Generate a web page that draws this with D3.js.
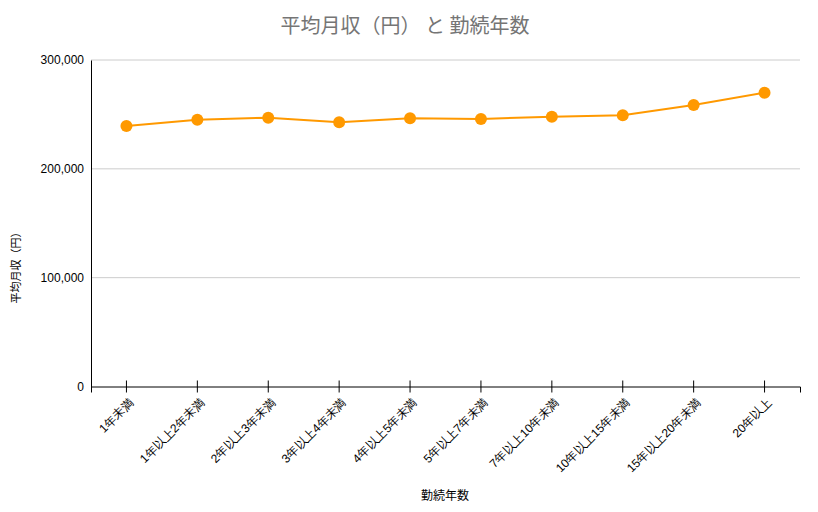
<!DOCTYPE html>
<html><head><meta charset="utf-8">
<script src="https://cdn.jsdelivr.net/npm/d3@7"></script>
<style>body{margin:0;background:#fff;} svg{font-family:"Noto Sans CJK JP","Liberation Sans",Arial,sans-serif;}</style>
</head><body>
<svg id="c" width="818" height="512"></svg>
<script>
const categories = ["1年未満","1年以上2年未満","2年以上3年未満","3年以上4年未満","4年以上5年未満","5年以上7年未満","7年以上10年未満","10年以上15年未満","15年以上20年未満","20年以上"];
const values = [239400, 245200, 247000, 242800, 246400, 245800, 247900, 249200, 258700, 270000];
const yTicks = [0, 100000, 200000, 300000];
const title = "平均月収（円） と 勤続年数";
const xTitle = "勤続年数";
const yTitle = "平均月収（円）";

const svg = d3.select("#c");
const m = {l:91, r:800, t:60, b:386.5};
const x = d3.scaleBand().domain(categories).range([m.l, m.r]).padding(0);
const y = d3.scaleLinear().domain([0, 300000]).range([m.b, m.t]);

svg.append("rect").attr("width",818).attr("height",512).attr("fill","#fff");

// grid
svg.append("g").selectAll("line").data(yTicks.filter(d=>d>0)).join("line")
  .attr("x1", m.l).attr("x2", m.r).attr("y1", d=>y(d)).attr("y2", d=>y(d))
  .attr("stroke","#cccccc").attr("stroke-width",1);

// y axis
const ya = svg.append("g").attr("transform",`translate(${m.l},0)`)
  .call(d3.axisLeft(y).tickValues(yTicks).tickSize(0).tickPadding(7).tickFormat(d3.format(",")));
ya.select(".domain").attr("stroke","#000");
ya.selectAll("text").attr("font-size",12).attr("fill","#000").attr("font-family","Liberation Sans, Arial, sans-serif");

// x axis
const xa = svg.append("g").attr("transform",`translate(0,${m.b})`)
  .call(d3.axisBottom(x).tickSizeOuter(0).tickSize(6));
xa.select(".domain").attr("stroke","#000");
xa.selectAll(".tick line").attr("stroke","#000").attr("y1",-6).attr("y2",6);
xa.selectAll("text").attr("font-size",12).attr("fill","#000")
  .attr("text-anchor","end").attr("dy",null).attr("dominant-baseline","central")
  .attr("transform","translate(5,14) rotate(-45)").attr("x",0).attr("y",0);

// line
svg.append("path").datum(values)
  .attr("d", d3.line().x((d,i)=>x(categories[i])+x.bandwidth()/2).y(d=>y(d)))
  .attr("fill","none").attr("stroke","#ff9900").attr("stroke-width",2);
svg.append("g").selectAll("circle").data(values).join("circle")
  .attr("cx",(d,i)=>x(categories[i])+x.bandwidth()/2).attr("cy",d=>y(d)).attr("r",6)
  .attr("fill","#ff9900");

// titles
svg.append("text").attr("x",405).attr("y",33).attr("text-anchor","middle")
  .attr("font-size",20).attr("fill","#757575").text(title);
svg.append("text").attr("x",445).attr("y",500).attr("text-anchor","middle")
  .attr("font-size",12).attr("fill","#000").text(xTitle);
svg.append("text").attr("transform","translate(20,265) rotate(-90)").attr("text-anchor","middle")
  .attr("font-size",11).attr("fill","#000").text(yTitle);
</script>
</body></html>
